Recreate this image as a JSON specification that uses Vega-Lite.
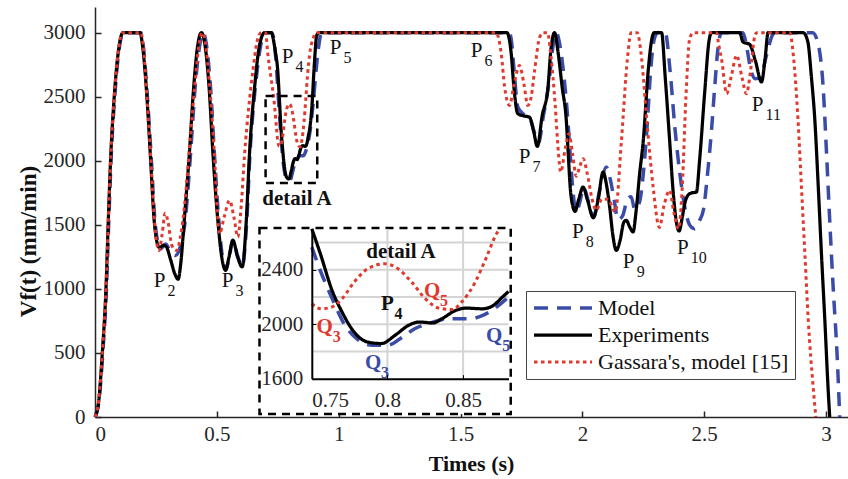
{
  "$schema": "https://vega.github.io/schema/vega-lite/v6.json",
  "width": 753,
  "height": 410,
  "autosize": "none",
  "padding": {"left": 95, "top": 7, "right": 0, "bottom": 62},
  "background": "white",
  "config": {
    "view": {"stroke": null},
    "font": "Liberation Serif",
    "axis": {"labelFont": "Liberation Serif", "titleFont": "Liberation Serif", "labelFontSize": 21, "titleFontSize": 22, "labelColor": "#262626", "titleColor": "#111111", "domainColor": "#262626", "tickColor": "#262626", "grid": false},
    "legend": {"labelFont": "Liberation Serif", "labelFontSize": 22, "labelColor": "#111111", "labelLimit": 400}
  },
  "datasets": {
    "main": [
      {"series": "Experiments", "t": 0, "v": 0}, {"series": "Experiments", "t": 0.015, "v": 120}, {"series": "Experiments", "t": 0.03, "v": 500}, {"series": "Experiments", "t": 0.045, "v": 1000}, {"series": "Experiments", "t": 0.054, "v": 1500}, {"series": "Experiments", "t": 0.065, "v": 2050}, {"series": "Experiments", "t": 0.079, "v": 2500}, {"series": "Experiments", "t": 0.095, "v": 2840}, {"series": "Experiments", "t": 0.108, "v": 2980}, {"series": "Experiments", "t": 0.115, "v": 3000}, {"series": "Experiments", "t": 0.185, "v": 3000}, {"series": "Experiments", "t": 0.195, "v": 2900}, {"series": "Experiments", "t": 0.213, "v": 2500}, {"series": "Experiments", "t": 0.227, "v": 2050}, {"series": "Experiments", "t": 0.243, "v": 1530}, {"series": "Experiments", "t": 0.255, "v": 1360}, {"series": "Experiments", "t": 0.265, "v": 1320}, {"series": "Experiments", "t": 0.28, "v": 1340}, {"series": "Experiments", "t": 0.292, "v": 1330}, {"series": "Experiments", "t": 0.31, "v": 1230}, {"series": "Experiments", "t": 0.327, "v": 1120}, {"series": "Experiments", "t": 0.341, "v": 1075}, {"series": "Experiments", "t": 0.352, "v": 1200}, {"series": "Experiments", "t": 0.366, "v": 1530}, {"series": "Experiments", "t": 0.387, "v": 2050}, {"series": "Experiments", "t": 0.404, "v": 2550}, {"series": "Experiments", "t": 0.42, "v": 2880}, {"series": "Experiments", "t": 0.437, "v": 3000}, {"series": "Experiments", "t": 0.45, "v": 2920}, {"series": "Experiments", "t": 0.469, "v": 2550}, {"series": "Experiments", "t": 0.484, "v": 2055}, {"series": "Experiments", "t": 0.504, "v": 1535}, {"series": "Experiments", "t": 0.52, "v": 1250}, {"series": "Experiments", "t": 0.536, "v": 1145}, {"series": "Experiments", "t": 0.55, "v": 1250}, {"series": "Experiments", "t": 0.566, "v": 1379}, {"series": "Experiments", "t": 0.585, "v": 1250}, {"series": "Experiments", "t": 0.604, "v": 1171}, {"series": "Experiments", "t": 0.621, "v": 1535}, {"series": "Experiments", "t": 0.634, "v": 2055}, {"series": "Experiments", "t": 0.655, "v": 2575}, {"series": "Experiments", "t": 0.675, "v": 2900}, {"series": "Experiments", "t": 0.696, "v": 3000}, {"series": "Experiments", "t": 0.723, "v": 3000}, {"series": "Experiments", "t": 0.74, "v": 2850}, {"series": "Experiments", "t": 0.75, "v": 2700}, {"series": "Experiments", "t": 0.756, "v": 2505}, {"series": "Experiments", "t": 0.763, "v": 2260}, {"series": "Experiments", "t": 0.77, "v": 2089}, {"series": "Experiments", "t": 0.778, "v": 1942}, {"series": "Experiments", "t": 0.787, "v": 1869}, {"series": "Experiments", "t": 0.796, "v": 1858}, {"series": "Experiments", "t": 0.805, "v": 1918}, {"series": "Experiments", "t": 0.814, "v": 1992}, {"series": "Experiments", "t": 0.821, "v": 2016}, {"series": "Experiments", "t": 0.83, "v": 2009}, {"series": "Experiments", "t": 0.836, "v": 2040}, {"series": "Experiments", "t": 0.845, "v": 2101}, {"series": "Experiments", "t": 0.852, "v": 2118}, {"series": "Experiments", "t": 0.863, "v": 2113}, {"series": "Experiments", "t": 0.87, "v": 2138}, {"series": "Experiments", "t": 0.876, "v": 2199}, {"series": "Experiments", "t": 0.881, "v": 2248}, {"series": "Experiments", "t": 0.89, "v": 2420}, {"series": "Experiments", "t": 0.9, "v": 2750}, {"series": "Experiments", "t": 0.91, "v": 2980}, {"series": "Experiments", "t": 0.92, "v": 3000}, {"series": "Experiments", "t": 1.69, "v": 3000}, {"series": "Experiments", "t": 1.7, "v": 2950}, {"series": "Experiments", "t": 1.708, "v": 2836}, {"series": "Experiments", "t": 1.719, "v": 2575}, {"series": "Experiments", "t": 1.735, "v": 2367}, {"series": "Experiments", "t": 1.76, "v": 2350}, {"series": "Experiments", "t": 1.783, "v": 2340}, {"series": "Experiments", "t": 1.8, "v": 2230}, {"series": "Experiments", "t": 1.815, "v": 2112}, {"series": "Experiments", "t": 1.835, "v": 2350}, {"series": "Experiments", "t": 1.859, "v": 2575}, {"series": "Experiments", "t": 1.87, "v": 2850}, {"series": "Experiments", "t": 1.886, "v": 3000}, {"series": "Experiments", "t": 1.9, "v": 2850}, {"series": "Experiments", "t": 1.917, "v": 2575}, {"series": "Experiments", "t": 1.934, "v": 2315}, {"series": "Experiments", "t": 1.942, "v": 2055}, {"series": "Experiments", "t": 1.95, "v": 1795}, {"series": "Experiments", "t": 1.96, "v": 1650}, {"series": "Experiments", "t": 1.97, "v": 1605}, {"series": "Experiments", "t": 1.985, "v": 1700}, {"series": "Experiments", "t": 2.003, "v": 1795}, {"series": "Experiments", "t": 2.02, "v": 1700}, {"series": "Experiments", "t": 2.045, "v": 1555}, {"series": "Experiments", "t": 2.065, "v": 1700}, {"series": "Experiments", "t": 2.085, "v": 1912}, {"series": "Experiments", "t": 2.1, "v": 1800}, {"series": "Experiments", "t": 2.112, "v": 1639}, {"series": "Experiments", "t": 2.125, "v": 1420}, {"series": "Experiments", "t": 2.139, "v": 1300}, {"series": "Experiments", "t": 2.155, "v": 1380}, {"series": "Experiments", "t": 2.17, "v": 1520}, {"series": "Experiments", "t": 2.18, "v": 1535}, {"series": "Experiments", "t": 2.195, "v": 1480}, {"series": "Experiments", "t": 2.208, "v": 1444}, {"series": "Experiments", "t": 2.22, "v": 1600}, {"series": "Experiments", "t": 2.235, "v": 1899}, {"series": "Experiments", "t": 2.25, "v": 2160}, {"series": "Experiments", "t": 2.27, "v": 2700}, {"series": "Experiments", "t": 2.285, "v": 2950}, {"series": "Experiments", "t": 2.295, "v": 3000}, {"series": "Experiments", "t": 2.325, "v": 3000}, {"series": "Experiments", "t": 2.34, "v": 2650}, {"series": "Experiments", "t": 2.358, "v": 2160}, {"series": "Experiments", "t": 2.372, "v": 1770}, {"series": "Experiments", "t": 2.385, "v": 1530}, {"series": "Experiments", "t": 2.397, "v": 1452}, {"series": "Experiments", "t": 2.41, "v": 1560}, {"series": "Experiments", "t": 2.42, "v": 1665}, {"series": "Experiments", "t": 2.435, "v": 1735}, {"series": "Experiments", "t": 2.447, "v": 1748}, {"series": "Experiments", "t": 2.468, "v": 1756}, {"series": "Experiments", "t": 2.481, "v": 2003}, {"series": "Experiments", "t": 2.502, "v": 2536}, {"series": "Experiments", "t": 2.52, "v": 2940}, {"series": "Experiments", "t": 2.53, "v": 3000}, {"series": "Experiments", "t": 2.646, "v": 3000}, {"series": "Experiments", "t": 2.659, "v": 2927}, {"series": "Experiments", "t": 2.686, "v": 2909}, {"series": "Experiments", "t": 2.71, "v": 2780}, {"series": "Experiments", "t": 2.735, "v": 2615}, {"series": "Experiments", "t": 2.75, "v": 2800}, {"series": "Experiments", "t": 2.762, "v": 3000}, {"series": "Experiments", "t": 2.906, "v": 3000}, {"series": "Experiments", "t": 2.925, "v": 2930}, {"series": "Experiments", "t": 2.94, "v": 2650}, {"series": "Experiments", "t": 2.954, "v": 2315}, {"series": "Experiments", "t": 2.968, "v": 1795}, {"series": "Experiments", "t": 2.981, "v": 1275}, {"series": "Experiments", "t": 2.995, "v": 754}, {"series": "Experiments", "t": 3.008, "v": 234}, {"series": "Experiments", "t": 3.015, "v": 0},
      {"series": "Model", "t": 0, "v": 0}, {"series": "Model", "t": 0.016, "v": 120}, {"series": "Model", "t": 0.032, "v": 500}, {"series": "Model", "t": 0.047, "v": 1000}, {"series": "Model", "t": 0.056, "v": 1500}, {"series": "Model", "t": 0.067, "v": 2050}, {"series": "Model", "t": 0.081, "v": 2500}, {"series": "Model", "t": 0.097, "v": 2840}, {"series": "Model", "t": 0.11, "v": 2980}, {"series": "Model", "t": 0.117, "v": 3000}, {"series": "Model", "t": 0.188, "v": 3000}, {"series": "Model", "t": 0.198, "v": 2900}, {"series": "Model", "t": 0.215, "v": 2500}, {"series": "Model", "t": 0.23, "v": 2050}, {"series": "Model", "t": 0.246, "v": 1530}, {"series": "Model", "t": 0.258, "v": 1360}, {"series": "Model", "t": 0.268, "v": 1310}, {"series": "Model", "t": 0.29, "v": 1350}, {"series": "Model", "t": 0.31, "v": 1290}, {"series": "Model", "t": 0.33, "v": 1260}, {"series": "Model", "t": 0.35, "v": 1330}, {"series": "Model", "t": 0.37, "v": 1530}, {"series": "Model", "t": 0.392, "v": 2050}, {"series": "Model", "t": 0.41, "v": 2550}, {"series": "Model", "t": 0.428, "v": 2880}, {"series": "Model", "t": 0.444, "v": 3000}, {"series": "Model", "t": 0.456, "v": 2920}, {"series": "Model", "t": 0.475, "v": 2550}, {"series": "Model", "t": 0.49, "v": 2055}, {"series": "Model", "t": 0.508, "v": 1535}, {"series": "Model", "t": 0.522, "v": 1260}, {"series": "Model", "t": 0.537, "v": 1150}, {"series": "Model", "t": 0.552, "v": 1260}, {"series": "Model", "t": 0.566, "v": 1380}, {"series": "Model", "t": 0.585, "v": 1260}, {"series": "Model", "t": 0.604, "v": 1175}, {"series": "Model", "t": 0.622, "v": 1500}, {"series": "Model", "t": 0.636, "v": 2055}, {"series": "Model", "t": 0.658, "v": 2575}, {"series": "Model", "t": 0.68, "v": 2900}, {"series": "Model", "t": 0.7, "v": 3000}, {"series": "Model", "t": 0.725, "v": 3000}, {"series": "Model", "t": 0.742, "v": 2800}, {"series": "Model", "t": 0.75, "v": 2566}, {"series": "Model", "t": 0.756, "v": 2383}, {"series": "Model", "t": 0.763, "v": 2200}, {"series": "Model", "t": 0.772, "v": 1990}, {"series": "Model", "t": 0.78, "v": 1890}, {"series": "Model", "t": 0.79, "v": 1845}, {"series": "Model", "t": 0.8, "v": 1845}, {"series": "Model", "t": 0.81, "v": 1906}, {"series": "Model", "t": 0.818, "v": 1967}, {"series": "Model", "t": 0.827, "v": 2004}, {"series": "Model", "t": 0.841, "v": 2040}, {"series": "Model", "t": 0.854, "v": 2040}, {"series": "Model", "t": 0.863, "v": 2064}, {"series": "Model", "t": 0.872, "v": 2125}, {"series": "Model", "t": 0.88, "v": 2200}, {"series": "Model", "t": 0.89, "v": 2350}, {"series": "Model", "t": 0.9, "v": 2550}, {"series": "Model", "t": 0.915, "v": 2850}, {"series": "Model", "t": 0.93, "v": 3000}, {"series": "Model", "t": 1.7, "v": 3000}, {"series": "Model", "t": 1.71, "v": 2920}, {"series": "Model", "t": 1.72, "v": 2700}, {"series": "Model", "t": 1.735, "v": 2420}, {"series": "Model", "t": 1.76, "v": 2360}, {"series": "Model", "t": 1.785, "v": 2330}, {"series": "Model", "t": 1.8, "v": 2240}, {"series": "Model", "t": 1.82, "v": 2140}, {"series": "Model", "t": 1.84, "v": 2350}, {"series": "Model", "t": 1.862, "v": 2600}, {"series": "Model", "t": 1.88, "v": 2900}, {"series": "Model", "t": 1.893, "v": 3000}, {"series": "Model", "t": 1.905, "v": 2930}, {"series": "Model", "t": 1.922, "v": 2700}, {"series": "Model", "t": 1.937, "v": 2400}, {"series": "Model", "t": 1.95, "v": 2050}, {"series": "Model", "t": 1.962, "v": 1750}, {"series": "Model", "t": 1.975, "v": 1600}, {"series": "Model", "t": 1.99, "v": 1680}, {"series": "Model", "t": 2.005, "v": 1790}, {"series": "Model", "t": 2.025, "v": 1680}, {"series": "Model", "t": 2.045, "v": 1560}, {"series": "Model", "t": 2.07, "v": 1760}, {"series": "Model", "t": 2.098, "v": 1951}, {"series": "Model", "t": 2.115, "v": 1850}, {"series": "Model", "t": 2.13, "v": 1700}, {"series": "Model", "t": 2.146, "v": 1540}, {"series": "Model", "t": 2.165, "v": 1570}, {"series": "Model", "t": 2.185, "v": 1700}, {"series": "Model", "t": 2.2, "v": 1720}, {"series": "Model", "t": 2.215, "v": 1620}, {"series": "Model", "t": 2.235, "v": 1680}, {"series": "Model", "t": 2.25, "v": 1900}, {"series": "Model", "t": 2.265, "v": 2250}, {"series": "Model", "t": 2.28, "v": 2700}, {"series": "Model", "t": 2.295, "v": 2950}, {"series": "Model", "t": 2.31, "v": 3000}, {"series": "Model", "t": 2.34, "v": 3000}, {"series": "Model", "t": 2.36, "v": 2700}, {"series": "Model", "t": 2.38, "v": 2250}, {"series": "Model", "t": 2.4, "v": 1900}, {"series": "Model", "t": 2.42, "v": 1640}, {"series": "Model", "t": 2.44, "v": 1500}, {"series": "Model", "t": 2.46, "v": 1470}, {"series": "Model", "t": 2.48, "v": 1530}, {"series": "Model", "t": 2.497, "v": 1620}, {"series": "Model", "t": 2.515, "v": 1925}, {"series": "Model", "t": 2.53, "v": 2240}, {"series": "Model", "t": 2.543, "v": 2575}, {"series": "Model", "t": 2.557, "v": 2888}, {"series": "Model", "t": 2.57, "v": 3000}, {"series": "Model", "t": 2.659, "v": 3000}, {"series": "Model", "t": 2.675, "v": 2880}, {"series": "Model", "t": 2.69, "v": 2720}, {"series": "Model", "t": 2.71, "v": 2640}, {"series": "Model", "t": 2.73, "v": 2650}, {"series": "Model", "t": 2.755, "v": 2820}, {"series": "Model", "t": 2.78, "v": 2980}, {"series": "Model", "t": 2.79, "v": 3000}, {"series": "Model", "t": 2.945, "v": 3000}, {"series": "Model", "t": 2.965, "v": 2930}, {"series": "Model", "t": 2.988, "v": 2575}, {"series": "Model", "t": 3.002, "v": 2055}, {"series": "Model", "t": 3.015, "v": 1535}, {"series": "Model", "t": 3.029, "v": 1015}, {"series": "Model", "t": 3.045, "v": 495}, {"series": "Model", "t": 3.056, "v": 0},
      {"series": "Gassara's, model [15]", "t": 0, "v": 0}, {"series": "Gassara's, model [15]", "t": 0.015, "v": 130}, {"series": "Gassara's, model [15]", "t": 0.03, "v": 500}, {"series": "Gassara's, model [15]", "t": 0.045, "v": 1000}, {"series": "Gassara's, model [15]", "t": 0.054, "v": 1500}, {"series": "Gassara's, model [15]", "t": 0.065, "v": 2050}, {"series": "Gassara's, model [15]", "t": 0.079, "v": 2500}, {"series": "Gassara's, model [15]", "t": 0.095, "v": 2840}, {"series": "Gassara's, model [15]", "t": 0.107, "v": 2980}, {"series": "Gassara's, model [15]", "t": 0.113, "v": 3000}, {"series": "Gassara's, model [15]", "t": 0.188, "v": 3000}, {"series": "Gassara's, model [15]", "t": 0.198, "v": 2900}, {"series": "Gassara's, model [15]", "t": 0.213, "v": 2500}, {"series": "Gassara's, model [15]", "t": 0.228, "v": 2050}, {"series": "Gassara's, model [15]", "t": 0.244, "v": 1530}, {"series": "Gassara's, model [15]", "t": 0.255, "v": 1340}, {"series": "Gassara's, model [15]", "t": 0.263, "v": 1300}, {"series": "Gassara's, model [15]", "t": 0.275, "v": 1420}, {"series": "Gassara's, model [15]", "t": 0.288, "v": 1590}, {"series": "Gassara's, model [15]", "t": 0.3, "v": 1520}, {"series": "Gassara's, model [15]", "t": 0.315, "v": 1340}, {"series": "Gassara's, model [15]", "t": 0.335, "v": 1300}, {"series": "Gassara's, model [15]", "t": 0.35, "v": 1400}, {"series": "Gassara's, model [15]", "t": 0.37, "v": 1700}, {"series": "Gassara's, model [15]", "t": 0.39, "v": 2150}, {"series": "Gassara's, model [15]", "t": 0.41, "v": 2600}, {"series": "Gassara's, model [15]", "t": 0.428, "v": 2920}, {"series": "Gassara's, model [15]", "t": 0.44, "v": 3000}, {"series": "Gassara's, model [15]", "t": 0.452, "v": 2930}, {"series": "Gassara's, model [15]", "t": 0.472, "v": 2550}, {"series": "Gassara's, model [15]", "t": 0.49, "v": 2050}, {"series": "Gassara's, model [15]", "t": 0.502, "v": 1600}, {"series": "Gassara's, model [15]", "t": 0.511, "v": 1430}, {"series": "Gassara's, model [15]", "t": 0.53, "v": 1560}, {"series": "Gassara's, model [15]", "t": 0.552, "v": 1690}, {"series": "Gassara's, model [15]", "t": 0.57, "v": 1560}, {"series": "Gassara's, model [15]", "t": 0.586, "v": 1405}, {"series": "Gassara's, model [15]", "t": 0.6, "v": 1650}, {"series": "Gassara's, model [15]", "t": 0.614, "v": 2055}, {"series": "Gassara's, model [15]", "t": 0.63, "v": 2400}, {"series": "Gassara's, model [15]", "t": 0.648, "v": 2705}, {"series": "Gassara's, model [15]", "t": 0.665, "v": 2930}, {"series": "Gassara's, model [15]", "t": 0.682, "v": 3000}, {"series": "Gassara's, model [15]", "t": 0.7, "v": 3000}, {"series": "Gassara's, model [15]", "t": 0.709, "v": 2836}, {"series": "Gassara's, model [15]", "t": 0.722, "v": 2650}, {"series": "Gassara's, model [15]", "t": 0.736, "v": 2445}, {"series": "Gassara's, model [15]", "t": 0.745, "v": 2250}, {"series": "Gassara's, model [15]", "t": 0.75, "v": 2150}, {"series": "Gassara's, model [15]", "t": 0.756, "v": 2113}, {"series": "Gassara's, model [15]", "t": 0.763, "v": 2125}, {"series": "Gassara's, model [15]", "t": 0.77, "v": 2187}, {"series": "Gassara's, model [15]", "t": 0.778, "v": 2309}, {"series": "Gassara's, model [15]", "t": 0.787, "v": 2407}, {"series": "Gassara's, model [15]", "t": 0.798, "v": 2443}, {"series": "Gassara's, model [15]", "t": 0.807, "v": 2407}, {"series": "Gassara's, model [15]", "t": 0.816, "v": 2309}, {"series": "Gassara's, model [15]", "t": 0.825, "v": 2187}, {"series": "Gassara's, model [15]", "t": 0.834, "v": 2118}, {"series": "Gassara's, model [15]", "t": 0.843, "v": 2108}, {"series": "Gassara's, model [15]", "t": 0.849, "v": 2162}, {"series": "Gassara's, model [15]", "t": 0.858, "v": 2309}, {"series": "Gassara's, model [15]", "t": 0.865, "v": 2480}, {"series": "Gassara's, model [15]", "t": 0.872, "v": 2663}, {"series": "Gassara's, model [15]", "t": 0.88, "v": 2820}, {"series": "Gassara's, model [15]", "t": 0.894, "v": 2950}, {"series": "Gassara's, model [15]", "t": 0.91, "v": 3000}, {"series": "Gassara's, model [15]", "t": 1.647, "v": 3000}, {"series": "Gassara's, model [15]", "t": 1.657, "v": 2950}, {"series": "Gassara's, model [15]", "t": 1.667, "v": 2836}, {"series": "Gassara's, model [15]", "t": 1.681, "v": 2575}, {"series": "Gassara's, model [15]", "t": 1.701, "v": 2432}, {"series": "Gassara's, model [15]", "t": 1.72, "v": 2600}, {"series": "Gassara's, model [15]", "t": 1.742, "v": 2744}, {"series": "Gassara's, model [15]", "t": 1.76, "v": 2600}, {"series": "Gassara's, model [15]", "t": 1.776, "v": 2432}, {"series": "Gassara's, model [15]", "t": 1.79, "v": 2500}, {"series": "Gassara's, model [15]", "t": 1.804, "v": 2705}, {"series": "Gassara's, model [15]", "t": 1.825, "v": 2966}, {"series": "Gassara's, model [15]", "t": 1.84, "v": 3000}, {"series": "Gassara's, model [15]", "t": 1.857, "v": 3000}, {"series": "Gassara's, model [15]", "t": 1.87, "v": 2836}, {"series": "Gassara's, model [15]", "t": 1.888, "v": 2445}, {"series": "Gassara's, model [15]", "t": 1.902, "v": 2055}, {"series": "Gassara's, model [15]", "t": 1.911, "v": 1912}, {"series": "Gassara's, model [15]", "t": 1.93, "v": 2100}, {"series": "Gassara's, model [15]", "t": 1.945, "v": 2210}, {"series": "Gassara's, model [15]", "t": 1.96, "v": 2050}, {"series": "Gassara's, model [15]", "t": 1.975, "v": 1880}, {"series": "Gassara's, model [15]", "t": 1.99, "v": 1960}, {"series": "Gassara's, model [15]", "t": 2.003, "v": 2016}, {"series": "Gassara's, model [15]", "t": 2.02, "v": 1900}, {"series": "Gassara's, model [15]", "t": 2.04, "v": 1700}, {"series": "Gassara's, model [15]", "t": 2.057, "v": 1613}, {"series": "Gassara's, model [15]", "t": 2.08, "v": 1700}, {"series": "Gassara's, model [15]", "t": 2.105, "v": 1700}, {"series": "Gassara's, model [15]", "t": 2.135, "v": 1600}, {"series": "Gassara's, model [15]", "t": 2.16, "v": 2150}, {"series": "Gassara's, model [15]", "t": 2.185, "v": 2800}, {"series": "Gassara's, model [15]", "t": 2.2, "v": 3000}, {"series": "Gassara's, model [15]", "t": 2.225, "v": 3000}, {"series": "Gassara's, model [15]", "t": 2.24, "v": 2850}, {"series": "Gassara's, model [15]", "t": 2.265, "v": 2300}, {"series": "Gassara's, model [15]", "t": 2.29, "v": 1800}, {"series": "Gassara's, model [15]", "t": 2.316, "v": 1480}, {"series": "Gassara's, model [15]", "t": 2.335, "v": 1650}, {"series": "Gassara's, model [15]", "t": 2.358, "v": 1769}, {"series": "Gassara's, model [15]", "t": 2.375, "v": 1600}, {"series": "Gassara's, model [15]", "t": 2.395, "v": 1470}, {"series": "Gassara's, model [15]", "t": 2.41, "v": 1800}, {"series": "Gassara's, model [15]", "t": 2.425, "v": 2500}, {"series": "Gassara's, model [15]", "t": 2.44, "v": 2950}, {"series": "Gassara's, model [15]", "t": 2.455, "v": 3000}, {"series": "Gassara's, model [15]", "t": 2.55, "v": 3000}, {"series": "Gassara's, model [15]", "t": 2.56, "v": 2900}, {"series": "Gassara's, model [15]", "t": 2.572, "v": 2783}, {"series": "Gassara's, model [15]", "t": 2.592, "v": 2523}, {"series": "Gassara's, model [15]", "t": 2.61, "v": 2650}, {"series": "Gassara's, model [15]", "t": 2.633, "v": 2823}, {"series": "Gassara's, model [15]", "t": 2.655, "v": 2650}, {"series": "Gassara's, model [15]", "t": 2.673, "v": 2523}, {"series": "Gassara's, model [15]", "t": 2.69, "v": 2700}, {"series": "Gassara's, model [15]", "t": 2.705, "v": 2950}, {"series": "Gassara's, model [15]", "t": 2.715, "v": 3000}, {"series": "Gassara's, model [15]", "t": 2.851, "v": 3000}, {"series": "Gassara's, model [15]", "t": 2.865, "v": 2836}, {"series": "Gassara's, model [15]", "t": 2.885, "v": 2315}, {"series": "Gassara's, model [15]", "t": 2.899, "v": 1795}, {"series": "Gassara's, model [15]", "t": 2.913, "v": 1275}, {"series": "Gassara's, model [15]", "t": 2.927, "v": 754}, {"series": "Gassara's, model [15]", "t": 2.947, "v": 234}, {"series": "Gassara's, model [15]", "t": 2.958, "v": 0}
    ],
    "inset": [
      {"series": "Model", "t": 0.75, "v": 2566}, {"series": "Model", "t": 0.756, "v": 2383}, {"series": "Model", "t": 0.763, "v": 2200}, {"series": "Model", "t": 0.772, "v": 1990}, {"series": "Model", "t": 0.78, "v": 1890}, {"series": "Model", "t": 0.79, "v": 1845}, {"series": "Model", "t": 0.8, "v": 1845}, {"series": "Model", "t": 0.81, "v": 1906}, {"series": "Model", "t": 0.818, "v": 1967}, {"series": "Model", "t": 0.827, "v": 2004}, {"series": "Model", "t": 0.841, "v": 2040}, {"series": "Model", "t": 0.854, "v": 2040}, {"series": "Model", "t": 0.863, "v": 2064}, {"series": "Model", "t": 0.872, "v": 2125}, {"series": "Model", "t": 0.88, "v": 2200},
      {"series": "Experiments", "t": 0.75, "v": 2700}, {"series": "Experiments", "t": 0.756, "v": 2505}, {"series": "Experiments", "t": 0.763, "v": 2260}, {"series": "Experiments", "t": 0.77, "v": 2089}, {"series": "Experiments", "t": 0.778, "v": 1942}, {"series": "Experiments", "t": 0.787, "v": 1869}, {"series": "Experiments", "t": 0.796, "v": 1858}, {"series": "Experiments", "t": 0.805, "v": 1918}, {"series": "Experiments", "t": 0.814, "v": 1992}, {"series": "Experiments", "t": 0.821, "v": 2016}, {"series": "Experiments", "t": 0.83, "v": 2009}, {"series": "Experiments", "t": 0.836, "v": 2040}, {"series": "Experiments", "t": 0.845, "v": 2101}, {"series": "Experiments", "t": 0.852, "v": 2118}, {"series": "Experiments", "t": 0.863, "v": 2113}, {"series": "Experiments", "t": 0.87, "v": 2138}, {"series": "Experiments", "t": 0.876, "v": 2199}, {"series": "Experiments", "t": 0.88, "v": 2240},
      {"series": "Gassara's, model [15]", "t": 0.75, "v": 2150}, {"series": "Gassara's, model [15]", "t": 0.756, "v": 2113}, {"series": "Gassara's, model [15]", "t": 0.763, "v": 2125}, {"series": "Gassara's, model [15]", "t": 0.77, "v": 2187}, {"series": "Gassara's, model [15]", "t": 0.778, "v": 2309}, {"series": "Gassara's, model [15]", "t": 0.787, "v": 2407}, {"series": "Gassara's, model [15]", "t": 0.798, "v": 2443}, {"series": "Gassara's, model [15]", "t": 0.807, "v": 2407}, {"series": "Gassara's, model [15]", "t": 0.816, "v": 2309}, {"series": "Gassara's, model [15]", "t": 0.825, "v": 2187}, {"series": "Gassara's, model [15]", "t": 0.834, "v": 2118}, {"series": "Gassara's, model [15]", "t": 0.843, "v": 2108}, {"series": "Gassara's, model [15]", "t": 0.849, "v": 2162}, {"series": "Gassara's, model [15]", "t": 0.858, "v": 2309}, {"series": "Gassara's, model [15]", "t": 0.865, "v": 2480}, {"series": "Gassara's, model [15]", "t": 0.872, "v": 2663}, {"series": "Gassara's, model [15]", "t": 0.874, "v": 2700}
    ],
    "peaks": [
      {"p": "P", "s": "2", "t": 0.265, "v": 1059}, {"p": "P", "s": "3", "t": 0.544, "v": 1059}, {"p": "P", "s": "4", "t": 0.79, "v": 2807}, {"p": "P", "s": "5", "t": 0.987, "v": 2877}, {"p": "P", "s": "6", "t": 1.566, "v": 2854}, {"p": "P", "s": "7", "t": 1.763, "v": 2027}, {"p": "P", "s": "8", "t": 1.981, "v": 1441}, {"p": "P", "s": "9", "t": 2.19, "v": 1207}, {"p": "P", "s": "10", "t": 2.412, "v": 1316}, {"p": "P", "s": "11", "t": 2.719, "v": 2432}
    ],
    "insetLabels": [
      {"series": "Experiments", "p": "P", "s": "4", "t": 0.8, "v": 2151},
      {"series": "Gassara's, model [15]", "p": "Q", "s": "3", "t": 0.7585, "v": 1983},
      {"series": "Gassara's, model [15]", "p": "Q", "s": "5", "t": 0.8295, "v": 2247},
      {"series": "Model", "p": "Q", "s": "3", "t": 0.7905, "v": 1716},
      {"series": "Model", "p": "Q", "s": "5", "t": 0.8705, "v": 1917}
    ],
    "boxes": [
      {"name": "detail", "t": 0.7, "t2": 0.912, "v": 1826, "v2": 2505},
      {"name": "inset", "t": 0.675, "t2": 1.706, "v": 23, "v2": 1475}
    ],
    "gridH": [{"v": 1800}, {"v": 2000}, {"v": 2200}, {"v": 2400}, {"v": 2600}],
    "gridV": [{"t": 0.8}, {"t": 0.85}]
  },
  "layer": [
    {
      "layer": [
        {
          "data": {"name": "main"},
          "transform": [{"filter": "datum.series === 'Model'"}],
          "mark": {"type": "line", "interpolate": "monotone"},
          "encoding": {
            "x": {"field": "t", "type": "quantitative", "scale": {"domain": [0, 3.09], "nice": false, "zero": false},
                  "axis": {"values": [0, 0.5, 1, 1.5, 2, 2.5, 3], "format": "~g", "title": "Times (s)", "titleFontWeight": "bold", "tickSize": -6, "labelPadding": 12, "titleX": 376, "titleY": 36, "titleBaseline": "top", "domainWidth": 1.5, "tickWidth": 1.5}},
            "y": {"field": "v", "type": "quantitative", "scale": {"domain": [0, 3200], "nice": false},
                  "axis": {"values": [0, 500, 1000, 1500, 2000, 2500, 3000], "format": "d", "title": "Vf(t) (mm/min)", "titleFontWeight": "bold", "titleFontSize": 23, "tickSize": -6, "labelPadding": 16, "titleX": -67, "titleY": 234, "titleBaseline": "middle", "domainWidth": 1.5, "tickWidth": 1.5}},
            "color": {"field": "series", "type": "nominal", "scale": {"domain": ["Model", "Experiments", "Gassara's, model [15]"], "range": ["#3a4ca8", "#000000", "#e0392e"]},
                      "legend": {"orient": "none", "legendX": 431, "legendY": 284, "title": null, "symbolType": "stroke", "symbolSize": 3364, "clipHeight": 22, "strokeColor": "#444444", "fillColor": "white", "padding": 6, "rowPadding": 5, "labelOffset": 4}},
            "strokeDash": {"field": "series", "type": "nominal", "scale": {"domain": ["Model", "Experiments", "Gassara's, model [15]"], "range": [[14, 9], [1, 0], [3.5, 3.5]]}},
            "strokeWidth": {"field": "series", "type": "nominal", "scale": {"domain": ["Model", "Experiments", "Gassara's, model [15]"], "range": [3.5, 3, 3.5]}}
          }
        },
        {
          "data": {"name": "main"},
          "transform": [{"filter": "datum.series === 'Experiments'"}],
          "mark": {"type": "line", "interpolate": "monotone"},
          "encoding": {
            "x": {"field": "t", "type": "quantitative"},
            "y": {"field": "v", "type": "quantitative"},
            "color": {"field": "series", "type": "nominal"},
            "strokeDash": {"field": "series", "type": "nominal"},
            "strokeWidth": {"field": "series", "type": "nominal"}
          }
        },
        {
          "data": {"name": "main"},
          "transform": [{"filter": "datum.series === \"Gassara's, model [15]\""}],
          "mark": {"type": "line", "interpolate": "monotone"},
          "encoding": {
            "x": {"field": "t", "type": "quantitative"},
            "y": {"field": "v", "type": "quantitative"},
            "color": {"field": "series", "type": "nominal"},
            "strokeDash": {"field": "series", "type": "nominal"},
            "strokeWidth": {"field": "series", "type": "nominal"}
          }
        },
        {
          "data": {"name": "boxes"},
          "transform": [{"filter": "datum.name === 'detail'"}],
          "mark": {"type": "rect", "fill": null, "stroke": "#000000", "strokeWidth": 2.5, "strokeDash": [8, 6]},
          "encoding": {"x": {"field": "t", "type": "quantitative"}, "x2": {"field": "t2"}, "y": {"field": "v", "type": "quantitative"}, "y2": {"field": "v2"}}
        },
        {
          "data": {"values": [{"label": "detail A", "t": 0.829, "v": 1700}]},
          "mark": {"type": "text", "font": "Liberation Serif", "fontSize": 21, "fontWeight": "bold", "align": "center", "baseline": "middle", "color": "#111111"},
          "encoding": {"x": {"field": "t", "type": "quantitative"}, "y": {"field": "v", "type": "quantitative"}, "text": {"field": "label"}}
        },
        {
          "data": {"name": "peaks"},
          "mark": {"type": "text", "font": "Liberation Serif", "fontSize": 21, "align": "center", "baseline": "middle", "color": "#111111"},
          "encoding": {"x": {"field": "t", "type": "quantitative"}, "y": {"field": "v", "type": "quantitative"}, "text": {"field": "p"}}
        },
        {
          "data": {"name": "peaks"},
          "mark": {"type": "text", "font": "Liberation Serif", "fontSize": 16, "align": "left", "baseline": "middle", "dx": 8, "dy": 10, "color": "#111111"},
          "encoding": {"x": {"field": "t", "type": "quantitative"}, "y": {"field": "v", "type": "quantitative"}, "text": {"field": "s"}}
        },
        {
          "data": {"name": "boxes"},
          "transform": [{"filter": "datum.name === 'inset'"}],
          "mark": {"type": "rect", "fill": "white", "stroke": "#000000", "strokeWidth": 2.5, "strokeDash": [8, 6]},
          "encoding": {"x": {"field": "t", "type": "quantitative"}, "x2": {"field": "t2"}, "y": {"field": "v", "type": "quantitative"}, "y2": {"field": "v2"}}
        }
      ]
    },
    {
      "layer": [
        {
          "data": {"name": "gridH"},
          "mark": {"type": "rule", "stroke": "#d4d4d4", "strokeWidth": 2},
          "encoding": {
            "y": {"field": "v", "type": "quantitative", "scale": {"domain": [1600, 2700], "range": [371.7, 221.8], "nice": false, "zero": false},
                  "axis": {"orient": "left", "offset": -216.8, "values": [1600, 2000, 2400], "format": "d", "title": null, "tickSize": -4, "labelPadding": 13, "zindex": 1, "domainColor": "#000000", "domainWidth": 2, "tickColor": "#000000", "labelColor": "#262626"}},
            "x": {"datum": 0.75, "type": "quantitative", "scale": {"domain": [0.75, 0.88], "range": [216.8, 413.5], "nice": false, "zero": false},
                  "axis": {"orient": "bottom", "offset": -38.3, "values": [0.75, 0.8, 0.85], "format": "~g", "title": null, "tickSize": -4, "labelPadding": 15, "zindex": 1, "domainColor": "#000000", "domainWidth": 2, "tickColor": "#000000", "labelColor": "#262626"}},
            "x2": {"datum": 0.88}
          }
        },
        {
          "data": {"name": "gridV"},
          "mark": {"type": "rule", "stroke": "#d4d4d4", "strokeWidth": 2},
          "encoding": {
            "x": {"field": "t", "type": "quantitative"},
            "y": {"datum": 1600, "type": "quantitative"},
            "y2": {"datum": 2700}
          }
        },
        {
          "data": {"name": "inset"},
          "transform": [{"filter": "datum.series === 'Model'"}],
          "mark": {"type": "line", "interpolate": "monotone"},
          "encoding": {
            "x": {"field": "t", "type": "quantitative"},
            "y": {"field": "v", "type": "quantitative"},
            "color": {"field": "series", "type": "nominal"},
            "strokeDash": {"field": "series", "type": "nominal"},
            "strokeWidth": {"field": "series", "type": "nominal"}
          }
        },
        {
          "data": {"name": "inset"},
          "transform": [{"filter": "datum.series === 'Experiments'"}],
          "mark": {"type": "line", "interpolate": "monotone"},
          "encoding": {
            "x": {"field": "t", "type": "quantitative"},
            "y": {"field": "v", "type": "quantitative"},
            "color": {"field": "series", "type": "nominal"},
            "strokeDash": {"field": "series", "type": "nominal"},
            "strokeWidth": {"field": "series", "type": "nominal"}
          }
        },
        {
          "data": {"name": "inset"},
          "transform": [{"filter": "datum.series === \"Gassara's, model [15]\""}],
          "mark": {"type": "line", "interpolate": "monotone"},
          "encoding": {
            "x": {"field": "t", "type": "quantitative"},
            "y": {"field": "v", "type": "quantitative"},
            "color": {"field": "series", "type": "nominal"},
            "strokeDash": {"field": "series", "type": "nominal"},
            "strokeWidth": {"field": "series", "type": "nominal"}
          }
        },
        {
          "data": {"values": [{"label": "detail A", "t": 0.809, "v": 2529}]},
          "mark": {"type": "text", "font": "Liberation Serif", "fontSize": 21, "fontWeight": "bold", "align": "center", "baseline": "middle", "color": "#111111"},
          "encoding": {"x": {"field": "t", "type": "quantitative"}, "y": {"field": "v", "type": "quantitative"}, "text": {"field": "label"}}
        },
        {
          "data": {"name": "insetLabels"},
          "transform": [{"filter": "datum.series === 'Experiments'"}],
          "mark": {"type": "text", "font": "Liberation Serif", "fontSize": 21, "fontWeight": "bold", "align": "center", "baseline": "middle", "color": "#111111"},
          "encoding": {"x": {"field": "t", "type": "quantitative"}, "y": {"field": "v", "type": "quantitative"}, "text": {"field": "p"}}
        },
        {
          "data": {"name": "insetLabels"},
          "transform": [{"filter": "datum.series === 'Experiments'"}],
          "mark": {"type": "text", "font": "Liberation Serif", "fontSize": 16, "fontWeight": "bold", "align": "left", "baseline": "middle", "dx": 7, "dy": 10, "color": "#111111"},
          "encoding": {"x": {"field": "t", "type": "quantitative"}, "y": {"field": "v", "type": "quantitative"}, "text": {"field": "s"}}
        },
        {
          "data": {"name": "insetLabels"},
          "transform": [{"filter": "datum.series === 'Model'"}],
          "mark": {"type": "text", "font": "Liberation Serif", "fontSize": 21, "fontWeight": "bold", "align": "center", "baseline": "middle", "color": "#3a4ca8"},
          "encoding": {"x": {"field": "t", "type": "quantitative"}, "y": {"field": "v", "type": "quantitative"}, "text": {"field": "p"}}
        },
        {
          "data": {"name": "insetLabels"},
          "transform": [{"filter": "datum.series === 'Model'"}],
          "mark": {"type": "text", "font": "Liberation Serif", "fontSize": 16, "fontWeight": "bold", "align": "left", "baseline": "middle", "dx": 8, "dy": 10, "color": "#3a4ca8"},
          "encoding": {"x": {"field": "t", "type": "quantitative"}, "y": {"field": "v", "type": "quantitative"}, "text": {"field": "s"}}
        },
        {
          "data": {"name": "insetLabels"},
          "transform": [{"filter": "datum.series !== 'Model' && datum.series !== 'Experiments'"}],
          "mark": {"type": "text", "font": "Liberation Serif", "fontSize": 21, "fontWeight": "bold", "align": "center", "baseline": "middle", "color": "#e0392e"},
          "encoding": {"x": {"field": "t", "type": "quantitative"}, "y": {"field": "v", "type": "quantitative"}, "text": {"field": "p"}}
        },
        {
          "data": {"name": "insetLabels"},
          "transform": [{"filter": "datum.series !== 'Model' && datum.series !== 'Experiments'"}],
          "mark": {"type": "text", "font": "Liberation Serif", "fontSize": 16, "fontWeight": "bold", "align": "left", "baseline": "middle", "dx": 8, "dy": 10, "color": "#e0392e"},
          "encoding": {"x": {"field": "t", "type": "quantitative"}, "y": {"field": "v", "type": "quantitative"}, "text": {"field": "s"}}
        }
      ]
    }
  ],
  "resolve": {"scale": {"x": "independent", "y": "independent"}, "axis": {"x": "independent", "y": "independent"}}
}
